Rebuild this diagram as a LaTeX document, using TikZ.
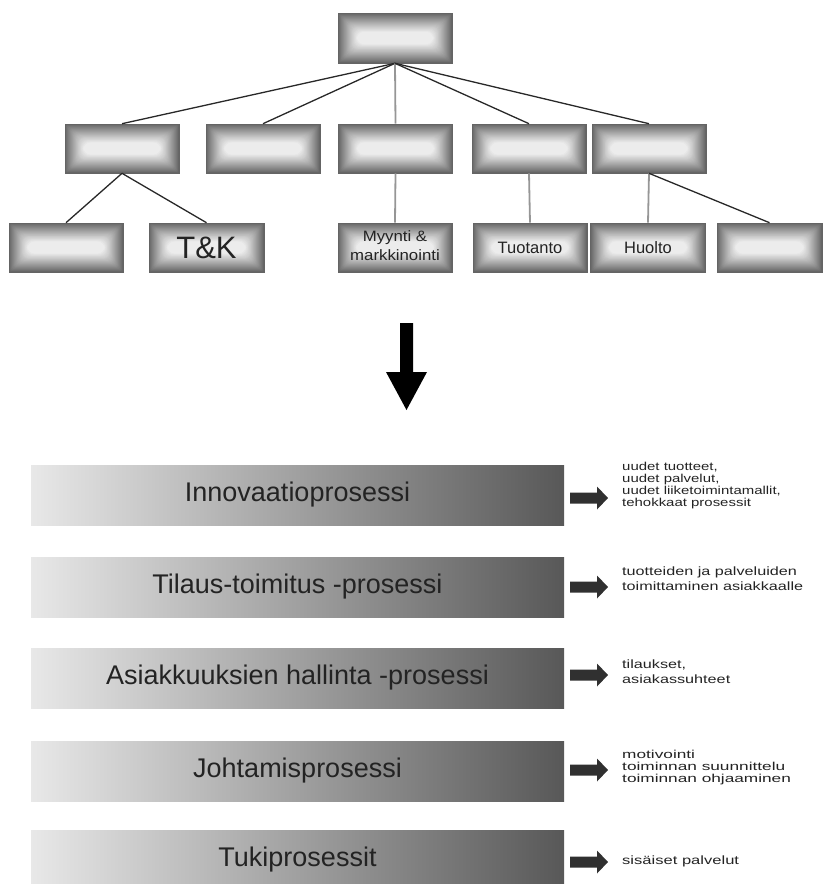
\documentclass[tikz,border=0pt]{standalone}
\usepackage{fontspec}
\setmainfont{Liberation Sans}
\usetikzlibrary{calc}
\usepackage{graphicx}

\definecolor{boxdark}{RGB}{100,100,100}
\definecolor{boxlight}{RGB}{236,236,236}
\definecolor{boxrim}{RGB}{100,100,100}
\definecolor{barL}{RGB}{232,232,232}
\definecolor{barM}{RGB}{192,192,192}
\definecolor{barR}{RGB}{88,88,88}
\definecolor{arrowdark}{RGB}{48,48,48}
\definecolor{tiedark}{RGB}{40,40,40}
\definecolor{tielight}{RGB}{150,150,150}
\definecolor{ink}{RGB}{35,35,35}

% organisation box with a soft rectangular grey gradient (dark rim, light centre)
\newcommand\orgunit[5]{% #1 name, #2 centre, #3 half width, #4 half height, #5 label
  \foreach \k in {0,...,30}{%
    \pgfmathsetmacro\ins{\k*0.9*#4/30}%
    \pgfmathtruncatemacro\mix{100*min(1,\k/25)^0.9}%
    \fill[boxlight!\mix!boxdark, rounded corners=\k*0.3] ($#2+(-#3+\ins,-#4+\ins)$) rectangle ($#2+(#3-\ins,#4-\ins)$);
  }%
  \node[orgbox, minimum width=2*#3, minimum height=2*#4] (#1) at #2 {#5};
}

% small result arrow pointing right, tail at the given coordinate
\newcommand\resultarrow[1]{%
  \fill[arrowdark] ($(#1)+(0,-5.5)$) -- ++(27,0) -- ++(0,-6) -- ++(11,11.5)
    -- ++(-11,11.5) -- ++(0,-6) -- ++(-27,0) -- cycle;
}

\tikzset{
  orgbox/.style={draw=boxrim, line width=0.6pt, rectangle, inner sep=0pt,
    text=ink, align=center},
  tie/.style={draw=tiedark, line width=1.3pt},
  tiev/.style={draw=tielight, line width=1.8pt},
  procbar/.style={rectangle, minimum width=533, minimum height=60, inner sep=0pt,
    left color=barL, middle color=barM, right color=barR,
    text=ink, font=\fontsize{27}{30}\selectfont},
  outcome/.style={anchor=west, inner sep=0pt, text=ink},
}

\begin{document}
\begin{tikzpicture}[x=1pt, y=-1pt]
\useasboundingbox (0,0) rectangle (824,884);

% --- organisation chart ---
\orgunit{top}{(395,38)}{57}{25}{}

\orgunit{m1}{(122,148.5)}{57}{24.5}{}
\orgunit{m2}{(263,148.5)}{57}{24.5}{}
\orgunit{m3}{(395.5,148.5)}{57}{24.5}{}
\orgunit{m4}{(529,148.5)}{57}{24.5}{}
\orgunit{m5}{(649,148.5)}{57}{24.5}{}

\orgunit{b1}{(66,247.5)}{57}{24.5}{}
\orgunit{b2}{(206.5,247.5)}{57.5}{24.5}{\fontsize{31}{34}\selectfont T\&K}
\orgunit{b3}{(395,247.5)}{57}{24.5}{\scalebox{1.12}[1]{\fontsize{15}{19}\selectfont\begin{tabular}{@{}c@{}}Myynti \&\\markkinointi\end{tabular}}}
\orgunit{b4}{(530,247.5)}{57}{24.5}{\fontsize{16.5}{18}\selectfont Tuotanto}
\orgunit{b5}{(648,247.5)}{57.5}{24.5}{\fontsize{16.5}{18}\selectfont Huolto}
\orgunit{b6}{(769.5,247.5)}{52.5}{24.5}{}

% connectors
\draw[tie] (top.south) -- (m1.north);
\draw[tie] (top.south) -- (m2.north);
\draw[tiev] (top.south) -- (m3.north);
\draw[tie] (top.south) -- (m4.north);
\draw[tie] (top.south) -- (m5.north);
\draw[tie] (m1.south) -- (b1.north);
\draw[tie] (m1.south) -- (b2.north);
\draw[tiev] (m3.south) -- (b3.north);
\draw[tiev] (m4.south) -- (b4.north);
\draw[tiev] (m5.south) -- (b5.north);
\draw[tie] (m5.south) -- (b6.north);

% --- transition arrow ---
\coordinate (turn) at (406.5,323);
\fill[black] ($(turn)+(-6.5,0)$) -- ++(13,0) -- ++(0,49) -- ++(14,0)
  -- ($(turn)+(0,87)$) -- ($(turn)+(-20.5,49)$) -- ++(14,0) -- cycle;

% --- processes ---
\node[procbar] (p1) at (297.5,495) {Innovaatioprosessi};
\node[procbar] (p2) at (297.5,587) {Tilaus-toimitus -prosessi};
\node[procbar] (p3) at (297.5,678) {Asiakkuuksien hallinta -prosessi};
\node[procbar] (p4) at (297.5,771) {Johtamisprosessi};
\node[procbar] (p5) at (297.5,860) {Tukiprosessit};

\coordinate (a1) at (570,498);
\coordinate (a2) at (570,587);
\coordinate (a3) at (570,675);
\coordinate (a4) at (570,770);
\coordinate (a5) at (570,862);
\resultarrow{a1}
\resultarrow{a2}
\resultarrow{a3}
\resultarrow{a4}
\resultarrow{a5}

\node[outcome] (o1) at (622,486) {\scalebox{1.3}[1]{\fontsize{11.5}{11.6}\selectfont\begin{tabular}{@{}l@{}}uudet tuotteet,\\uudet palvelut,\\uudet liiketoimintamallit,\\tehokkaat prosessit\end{tabular}}};
\node[outcome] (o2) at (622,580) {\scalebox{1.35}[1]{\fontsize{12}{15}\selectfont\begin{tabular}{@{}l@{}}tuotteiden ja palveluiden\\toimittaminen asiakkaalle\end{tabular}}};
\node[outcome] (o3) at (622,673) {\scalebox{1.35}[1]{\fontsize{12}{14.5}\selectfont\begin{tabular}{@{}l@{}}tilaukset,\\asiakassuhteet\end{tabular}}};
\node[outcome] (o4) at (622,768) {\scalebox{1.5}[1]{\fontsize{11.5}{11.3}\selectfont\begin{tabular}{@{}l@{}}motivointi\\toiminnan suunnittelu\\toiminnan ohjaaminen\end{tabular}}};
\node[outcome] (o5) at (622,861) {\scalebox{1.38}[1]{\fontsize{12}{14}\selectfont sisäiset palvelut}};
\end{tikzpicture}
\end{document}
